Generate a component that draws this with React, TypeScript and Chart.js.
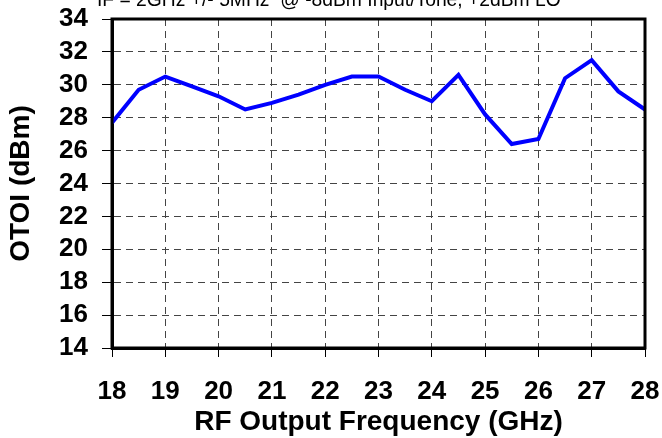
import React, { useEffect, useRef } from "react";
import { Chart, registerables } from "chart.js";

Chart.register(...registerables);

const frequencies = [18, 18.5, 19, 19.5, 20, 20.5, 21, 21.5, 22, 22.5, 23, 23.5, 24, 24.5, 25, 25.5, 26, 26.5, 27, 27.5, 28];
const otoi = [27.7, 29.7, 30.5, 29.9, 29.3, 28.5, 28.9, 29.4, 30.0, 30.5, 30.5, 29.7, 29.0, 30.6, 28.2, 26.4, 26.7, 30.4, 31.5, 29.6, 28.5];
const chartTitle = "IF = 2GHz +/- 5MHz  @ -8dBm Input/Tone, +2dBm LO";
const xTitle = "RF Output Frequency (GHz)";
const yTitle = "OTOI (dBm)";

const FONT = '"Liberation Sans", Arial, sans-serif';

const framePlugin = {
  id: "frame",
  afterDraw(chart: any) {
    const { ctx, chartArea } = chart;
    ctx.save();
    ctx.strokeStyle = "#000";
    ctx.lineWidth = 3;
    ctx.setLineDash([]);
    ctx.strokeRect(chartArea.left, chartArea.top, chartArea.right - chartArea.left, chartArea.bottom - chartArea.top);
    ctx.font = `19.3px ${FONT}`;
    ctx.fillStyle = "#000";
    ctx.textAlign = "left";
    ctx.textBaseline = "alphabetic";
    ctx.fillText(chartTitle, 97, 6);
    ctx.restore();
  },
};

export default function App() {
  const ref = useRef<HTMLCanvasElement | null>(null);
  useEffect(() => {
    if (!ref.current) return;
    const chart = new Chart(ref.current, {
      type: "line",
      data: {
        datasets: [
          {
            data: frequencies.map((f, i) => ({ x: f, y: otoi[i] })),
            borderColor: "#0000FF",
            borderWidth: 4,
            pointRadius: 0,
            tension: 0,
            fill: false,
          },
        ],
      },
      options: {
        animation: false,
        responsive: false,
        plugins: { legend: { display: false }, tooltip: { enabled: false }, title: { display: false } },
        layout: { padding: { left: 0, top: 19, right: 17, bottom: 0 } },
        scales: {
          x: {
            type: "linear",
            min: 18,
            max: 28,
            afterFit: (s: any) => { s.height = 90; s.paddingLeft = 0; s.paddingRight = 0; s.paddingTop = 0; s.paddingBottom = 0; },
            ticks: { stepSize: 1, autoSkip: false, color: "#000", padding: 19, font: { family: FONT, size: 26, weight: "bold" }, maxRotation: 0 },
            grid: { color: "#444", lineWidth: 1, tickColor: "#000", tickLength: 9, tickWidth: 1 },
            border: { display: true, color: "#000", width: 3, dash: [7, 5] },
            title: { display: true, text: xTitle, color: "#000", font: { family: FONT, size: 28, weight: "bold", lineHeight: 1 }, padding: { top: 0, bottom: 2 } },
          },
          y: {
            min: 14,
            max: 34,
            afterFit: (s: any) => { s.width = 112; s.paddingLeft = 0; s.paddingRight = 0; s.paddingTop = 0; s.paddingBottom = 0; },
            ticks: { stepSize: 2, autoSkip: false, color: "#000", padding: 14, font: { family: FONT, size: 26, weight: "bold" } },
            grid: { color: "#444", lineWidth: 1, tickColor: "#000", tickLength: 10, tickWidth: 1 },
            border: { display: true, color: "#000", width: 3, dash: [7, 5] },
            title: { display: true, text: yTitle, color: "#000", font: { family: FONT, size: 28, weight: "bold", lineHeight: 1 }, padding: { top: 7, bottom: 0 } },
          },
        },
      },
      plugins: [framePlugin],
    } as any);
    return () => chart.destroy();
  }, []);
  return (
    <div style={{ position: "absolute", left: 0, top: 0, width: 662, height: 438, background: "#fff" }}>
      <canvas ref={ref} width={662} height={438} style={{ display: "block" }} />
    </div>
  );
}
